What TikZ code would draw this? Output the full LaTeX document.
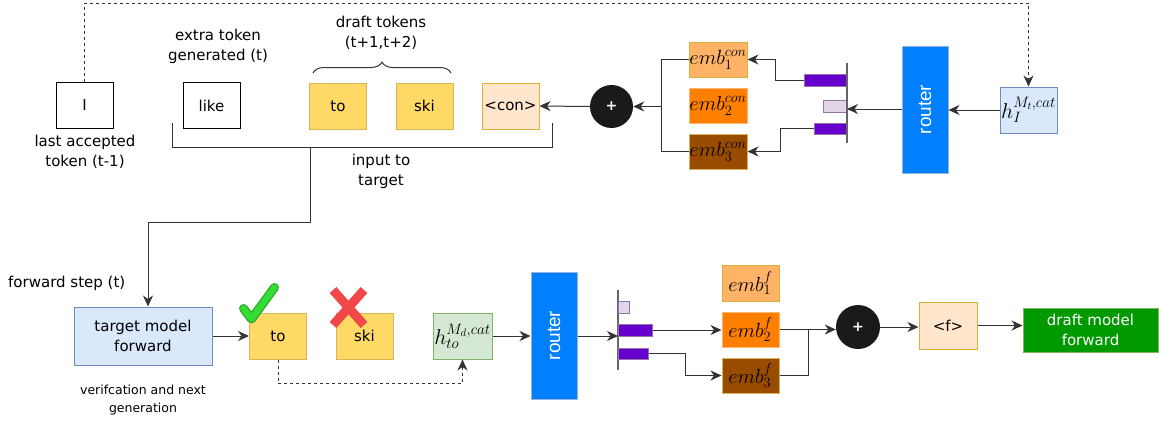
\RequirePackage{fix-cm}
\documentclass[tikz,border=0pt]{standalone}
\usepackage{fontspec}
\setmainfont{DejaVu Sans}
\newfontfamily\routerfont{Liberation Sans}
\usetikzlibrary{arrows.meta,decorations.pathreplacing,calc}
\definecolor{tokfill}{HTML}{FFD966}
\definecolor{tokdraw}{HTML}{D6B656}
\definecolor{confill}{HTML}{FFE6CC}
\definecolor{condraw}{HTML}{D79B00}
\definecolor{emba}{HTML}{FFB366}
\definecolor{embb}{HTML}{FF8000}
\definecolor{embbd}{HTML}{FFB570}
\definecolor{embc}{HTML}{994C00}
\definecolor{routerfill}{HTML}{007FFF}
\definecolor{bluedraw}{HTML}{6C8EBF}
\definecolor{bluefill}{HTML}{DAE8FC}
\definecolor{greenfill}{HTML}{D5E8D4}
\definecolor{greendraw}{HTML}{82B366}
\definecolor{barfill}{HTML}{6600CC}
\definecolor{bardraw}{HTML}{9673A6}
\definecolor{barlight}{HTML}{E1D5E7}
\definecolor{axisc}{HTML}{666666}
\definecolor{plusfill}{HTML}{1A1A1A}
\definecolor{draftfill}{HTML}{009900}
\definecolor{linec}{HTML}{333333}
\definecolor{checkc}{HTML}{33DD33}
\definecolor{checkd}{HTML}{29A829}
\definecolor{crossc}{HTML}{F04848}
\newcommand{\mylbl}{\fontsize{15}{20}\selectfont}
\newcommand{\mysmall}{\fontsize{12.5}{17.5}\selectfont}
\newcommand{\mymath}{\fontsize{20.5}{23}\selectfont}
\newcommand{\myhmath}{\fontsize{21.5}{24}\selectfont}
\begin{document}
\begin{tikzpicture}[x=1pt,y=-1pt,
  base/.style={rectangle, inner sep=0pt, line width=1pt, align=center, font=\mylbl},
  tokbox/.style={base, minimum width=57pt, minimum height=46pt},
  embbox/.style={base, minimum width=58pt, minimum height=35pt, font=\mymath},
  barbox/.style={rectangle, inner sep=0pt, line width=1pt, draw=bardraw, fill=barfill},
  routerbox/.style={rectangle, inner sep=0pt, line width=1pt, draw=bluedraw!70, fill=routerfill,
     minimum width=46pt, minimum height=127pt, text=white, font=\routerfont\fontsize{19}{22}\selectfont},
  plusnode/.style={circle, fill=plusfill, minimum size=43pt, inner sep=0pt, text=white, font=\bfseries\fontsize{14}{16}\selectfont},
  lbltext/.style={align=center, font=\mylbl, inner sep=0pt},
  conn/.style={draw=linec, line width=1pt},
  tip/.style={-{Stealth[length=11pt,width=10pt,inset=3.5pt]}},
  arr/.style={conn, tip},
  dashedconn/.style={conn, dash pattern=on 3pt off 3pt},
  axisline/.style={draw=axisc, line width=1.6pt}
]
\useasboundingbox (0,0) rectangle (1159,423);

% ---------- top row ----------
\node[tokbox, draw=black, fill=white] (I) at (84.5,105.5) {I};
\node[tokbox, draw=black, fill=white] (like) at (211.5,105.5) {like};
\node[tokbox, draw=tokdraw, fill=tokfill] (to) at (338,106) {to};
\node[tokbox, draw=tokdraw, fill=tokfill] (ski) at (424.5,106) {ski};
\node[tokbox, draw=condraw!80, fill=confill] (con) at (510.5,106) {<con>};

\node[lbltext] (lastlbl) at (85,152) {last accepted\\token (t-1)};
\node[lbltext] (extralbl) at (218,46) {extra token\\generated (t)};
\node[lbltext] (draftlbl) at (381,33) {draft tokens\\(t+1,t+2)};
\node[lbltext] (inputlbl) at (381,171) {input to\\target};

\draw[conn, decorate, decoration={brace, amplitude=11pt}] (313,73) -- (451,73);

\node[plusnode] (plus1) at (611.5,106.5) {+};
\node[embbox, draw=condraw!80, fill=emba] (e1c) at (718,59.5) {$emb_1^{con}$};
\node[embbox, draw=embbd, fill=embb] (e2c) at (718,105.5) {$emb_2^{con}$};
\node[embbox, draw=tokdraw, fill=embc] (e3c) at (718,151.5) {$emb_3^{con}$};

\node[barbox, minimum width=43pt, minimum height=12pt] (b1) at (825.5,80) {};
\node[barbox, fill=barlight, minimum width=24pt, minimum height=12pt] (b2) at (835,106) {};
\node[barbox, minimum width=33pt, minimum height=11pt] (b3) at (830.5,128.5) {};
\coordinate (axtop) at (847,63);
\coordinate (axbot) at (847,143);
\coordinate (ax1) at (847,109);
\draw[axisline] (axtop) -- (axbot);

\node[routerbox] (r1) at (925,109.5) {\rotatebox{90}{router}};
\node[base, draw=bluedraw, fill=bluefill, minimum width=57pt, minimum height=46pt, font=\myhmath] (hI) at (1028.5,110) {$h_I^{M_t,cat}$};

% top connectors
\coordinate (dtop) at (500,3);
\draw[dashedconn, tip] (I.north) |- (dtop) -| (hI.north);
\draw[arr] (hI.west) -- (r1.east |- hI.west);
\draw[arr] (r1.west |- ax1) -- (ax1);
\draw[arr] (b1.west) -- ++(-28,0) |- (e1c.east);
\draw[arr] (b3.west) -- ++(-33,0) |- (e3c.east);
\draw[conn] (e1c.west) -- ++(-27,0) coordinate (j1) |- (e3c.west);
\draw[arr] (j1 |- plus1.east) -- (plus1.east);
\draw[arr] (plus1.west) -- (con.east);

% input-to-target bracket
\coordinate (brl) at (172,123);
\coordinate (brr) at (552,123);
\coordinate (stem) at (310,147);
\coordinate (bend1) at (310,222);
\coordinate (bend2) at (148,222);
\draw[conn] (brl) |- (brr |- stem) -- (brr);

% ---------- bottom row ----------
\node[lbltext, anchor=west] (fwdlbl) at (8,283) {forward step (t)};
\node[base, draw=bluedraw, fill=bluefill, minimum width=138pt, minimum height=58pt] (target) at (143,336) {target model\\forward};
\node[align=center, font=\mysmall, inner sep=0pt] (verlbl) at (143,400) {verifcation and next\\generation};

\draw[arr] (stem) -- (bend1) -- (bend2) -- (bend2 |- target.north);

\node[tokbox, draw=tokdraw, fill=tokfill] (to2) at (278,336) {to};
\node[tokbox, draw=tokdraw, fill=tokfill] (ski2) at (364.5,336) {ski};
\node[base, draw=greendraw, fill=greenfill, minimum width=59pt, minimum height=46pt, font=\myhmath] (hto) at (462.5,336) {$h_{to}^{M_d,cat}$};
\node[routerbox] (r2) at (554,335.5) {\rotatebox{90}{router}};

% check mark and cross
\draw[checkd, line width=9pt, line cap=round, line join=round] (243.5,308.5) -- (251.5,319) -- (274.5,287.5);
\draw[checkc, line width=6.5pt, line cap=round, line join=round] (243.5,308.5) -- (251.5,319) -- (274.5,287.5);
\draw[crossc, line width=9pt] (333,290) -- (364,325);
\draw[crossc, line width=9pt] (364,290) -- (333,325);

\coordinate (ax2top) at (618,290);
\coordinate (ax2bot) at (618,370);
\coordinate (ax2) at (618,336);
\draw[axisline] (ax2top) -- (ax2bot);
\node[barbox, fill=barlight, minimum width=11pt, minimum height=12pt] (c1) at (623.5,307) {};
\node[barbox, minimum width=34pt, minimum height=12pt] (c2) at (635,330) {};
\node[barbox, minimum width=30pt, minimum height=11pt] (c3) at (633,353.5) {};

\node[embbox, draw=condraw!80, fill=emba, minimum width=57pt, minimum height=36pt] (e1f) at (750.5,283) {$emb_1^{f}$};
\node[embbox, draw=embbd, fill=embb, minimum width=57pt] (e2f) at (750.5,329.5) {$emb_2^{f}$};
\node[embbox, draw=tokdraw, fill=embc, minimum width=57pt] (e3f) at (750.5,375.5) {$emb_3^{f}$};
\node[plusnode, minimum size=44pt] (plus2) at (858,327) {+};
\node[base, draw=condraw!80, fill=confill, minimum width=58pt, minimum height=47pt] (fbox) at (948,325.5) {<f>};
\node[base, draw=greendraw, fill=draftfill, text=white, minimum width=135pt, minimum height=44pt] (draft) at (1090.5,330) {draft model\\forward};

% bottom connectors
\draw[arr] (target.east) -- (to2.west);
\draw[dashedconn, tip] (to2.south) -- ++(0,24) -| (hto.south);
\draw[arr] (hto.east) -- (r2.west |- hto.east);
\draw[arr] (r2.east |- ax2) -- (ax2);
\draw[arr] (c2.east) -- (e2f.west |- c2.east);
\draw[arr] (c3.east) -- ++(37,0) |- (e3f.west);
\draw[conn] (e2f.east) -- ++(29,0) coordinate (j2);
\draw[conn] (e3f.east) -| (j2);
\draw[arr] (j2) -- (plus2.west |- j2);
\draw[arr] (plus2.east) -- (fbox.west |- plus2.east);
\draw[arr] (fbox.east) -- (draft.west |- fbox.east);
\end{tikzpicture}
\end{document}
